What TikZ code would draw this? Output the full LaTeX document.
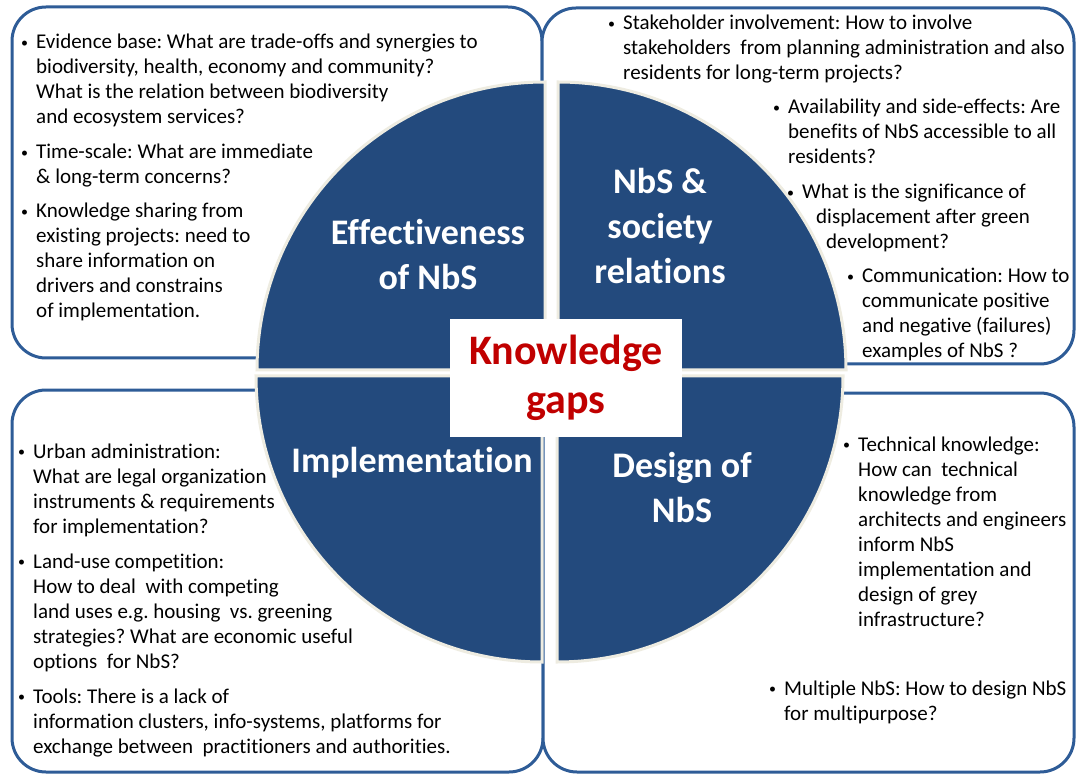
\documentclass[tikz,border=0pt]{standalone}
\usepackage{fontspec}
\setmainfont{Carlito}[Ligatures=NoCommon]
\usetikzlibrary{positioning}

\definecolor{quadblue}{HTML}{234A7D}
\definecolor{edgeblue}{HTML}{2E5C97}
\definecolor{rim}{HTML}{EEECE1}
\definecolor{gapred}{HTML}{C00000}

\tikzset{
  panel/.style={draw=edgeblue, line width=3pt, rounded corners=34pt, fill=white},
  quad/.style={fill=quadblue, draw=rim, line width=3pt},
  qtitle/.style={text=white, font=\fontsize{36}{45}\selectfont\bfseries, align=center, inner sep=0pt},
  kg/.style={fill=white, text=gapred, font=\fontsize{42}{51}\selectfont\bfseries, align=center,
             minimum width=232pt, minimum height=118pt, inner sep=0pt},
  itemtext/.style={anchor=base west, inner sep=0pt, font=\fontsize{21}{25}\selectfont\frenchspacing}
}
\newcommand{\bul}{\llap{\raisebox{1.5pt}{\fontsize{14}{14}\selectfont\textbullet}\hspace{8pt}}}

\begin{document}
\begin{tikzpicture}[x=1pt,y=-1pt]
  \useasboundingbox (0,0) rectangle (1076,775);

  \draw[panel] (12,7) rectangle (542,358);
  \draw[panel] (542,8) rectangle (1074,364);
  \draw[panel] (12,390) rectangle (543,772);
  \draw[panel] (543,393) rectangle (1074,772);

  \coordinate (nw) at (545,370);
  \coordinate (ne) at (558,370);
  \coordinate (sw) at (542,376);
  \coordinate (se) at (557,376);

  \filldraw[quad] (nw) -- ++(-288pt,0pt) arc[start angle=180, end angle=90, radius=288pt] -- cycle;
  \filldraw[quad] (ne) -- ++(0pt,288pt) arc[start angle=90, end angle=0, radius=288pt] -- cycle;
  \filldraw[quad] (sw) -- ++(-286pt,0pt) arc[start angle=180, end angle=270, radius=286pt] -- cycle;
  \filldraw[quad] (se) -- ++(286pt,0pt) arc[start angle=0, end angle=-90, radius=286pt] -- cycle;

  \node[kg] (gaps) at (566,378) {\raisebox{-2pt}{Knowledge}\\gaps};

  \node[qtitle] (eff) at (428,255) {Effectiveness\\of NbS};
  \node[qtitle] (soc) at (660,226) {NbS \&\\society\\relations};
  \node[qtitle] (imp) at (412,463) {Implementation};
  \node[qtitle] (des) at (682,487) {Design of\\NbS};

  \node[itemtext] (evid) at (36,49) {\begin{tabular}[t]{@{}l@{}}
    \bul Evidence base: What are trade-offs and synergies to\\
    biodiversity, health, economy and community?\\
    What is the relation between biodiversity\\
    and ecosystem services?\end{tabular}};
  \node[itemtext] (time) at (36,159) {\begin{tabular}[t]{@{}l@{}}
    \bul Time-scale: What are immediate\\
    \& long-term concerns?\end{tabular}};
  \node[itemtext] (share) at (36,218) {\begin{tabular}[t]{@{}l@{}}
    \bul Knowledge sharing from\\
    existing projects: need to\\
    share information on\\
    drivers and constrains\\
    of implementation.\end{tabular}};

  \node[itemtext] (stake) at (623,30) {\begin{tabular}[t]{@{}l@{}}
    \bul Stakeholder involvement: How to involve\\
    stakeholders\ \ from planning administration and also\\
    residents for long-term projects?\end{tabular}};
  \node[itemtext] (avail) at (788,114) {\begin{tabular}[t]{@{}l@{}}
    \bul Availability and side-effects: Are\\
    benefits of NbS accessible to all\\
    residents?\end{tabular}};
  \node[itemtext] (displ) at (802,199) {\begin{tabular}[t]{@{}l@{}}
    \bul What is the significance of\\
    \hspace{14pt}displacement after green\\
    \hspace{24pt}development?\end{tabular}};
  \node[itemtext] (comm) at (862,283) {\begin{tabular}[t]{@{}l@{}}
    \bul Communication: How to\\
    communicate positive\\
    and negative (failures)\\
    examples of NbS ?\end{tabular}};

  \node[itemtext] (urban) at (33,458) {\begin{tabular}[t]{@{}l@{}}
    \bul Urban administration:\\
    What are legal organization\\
    instruments \& requirements\\
    for implementation?\end{tabular}};
  \node[itemtext] (land) at (33,568) {\begin{tabular}[t]{@{}l@{}}
    \bul Land-use competition:\\
    How to deal\ \ with competing\\
    land uses e.g. housing\ \ vs. greening\\
    strategies? What are economic useful\\
    options\ \ for NbS?\end{tabular}};
  \node[itemtext] (tools) at (33,703) {\begin{tabular}[t]{@{}l@{}}
    \bul Tools: There is a lack of\\
    information clusters, info-systems, platforms for\\
    exchange between\ \ practitioners and authorities.\end{tabular}};

  \node[itemtext] (tech) at (858,451) {\begin{tabular}[t]{@{}l@{}}
    \bul Technical knowledge:\\
    How can\ \ technical\\
    knowledge from\\
    architects and engineers\\
    inform NbS\\
    implementation and\\
    design of grey\\
    infrastructure?\end{tabular}};
  \node[itemtext] (multi) at (784,695) {\begin{tabular}[t]{@{}l@{}}
    \bul Multiple NbS: How to design NbS\\
    for multipurpose?\end{tabular}};
\end{tikzpicture}
\end{document}
